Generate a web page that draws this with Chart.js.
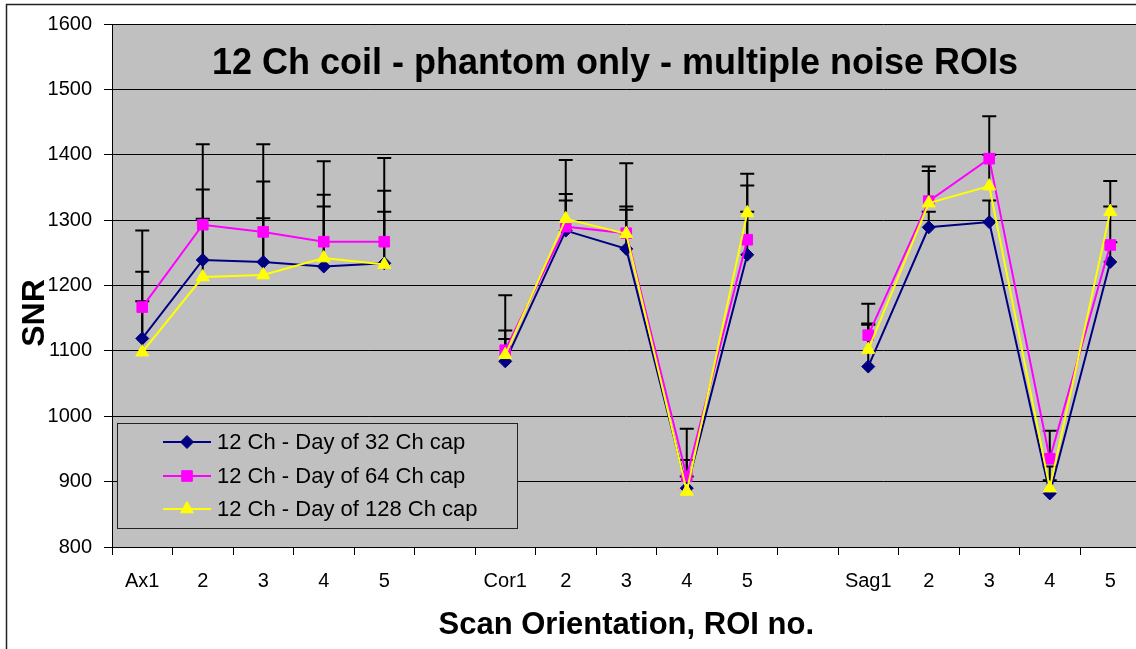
<!DOCTYPE html>
<html>
<head>
<meta charset="utf-8">
<script src="https://cdn.jsdelivr.net/npm/chart.js@4.4.1/dist/chart.umd.min.js"></script>
<style>
  html, body { margin: 0; padding: 0; background: #fff; overflow: hidden; }
  #wrap { width: 1149px; height: 649px; }
</style>
</head>
<body>
<div id="wrap"><canvas id="snrChart" width="1149" height="649"></canvas></div>
<script>
// SNR per scan orientation / ROI - 12 Ch coil, phantom only
const categories = ['Ax1', '2', '3', '4', '5', '', 'Cor1', '2', '3', '4', '5', '', 'Sag1', '2', '3', '4', '5'];
const yTicks = [800, 900, 1000, 1100, 1200, 1300, 1400, 1500, 1600];

const seriesNames = ['12 Ch - Day of 32 Ch cap', '12 Ch - Day of 64 Ch cap', '12 Ch - Day of 128 Ch cap'];

const snr32 = [1119, 1239, 1236, 1229, 1234, null, 1084, 1284, 1256, 890, 1247, null, 1076, 1289, 1297, 882, 1236];
const snr64 = [1167, 1293, 1282, 1267, 1267, null, 1101, 1290, 1280, 908, 1270, null, 1124, 1329, 1394, 935, 1262];
const snr128 = [1098, 1213, 1216, 1242, 1232, null, 1094, 1302, 1279, 885, 1311, null, 1102, 1326, 1352, 890, 1313];

// plus-only error bars
const err32 = [102, 108, 123, 92, 111, null, 34, 46, 60, 43, 66, null, 66, 24, 33, 20, 30];
const err64 = [117, 123, 134, 123, 128, null, 84, 50, 107, 73, 83, null, 48, 53, 65, 43, 59];
const err128 = [78, 89, 87, 97, 81, null, 37, 90, 42, 23, 60, null, 38, 49, 48, 33, 47];

const FONT = "'Liberation Sans', Arial, sans-serif";
Chart.defaults.font.family = FONT;
Chart.defaults.color = '#000';

const seriesStyle = [
  { color: '#000080', point: 'rectRot', radius: 6.5 },
  { color: '#ff00ff', point: 'rect', radius: 7.5 },
  { color: '#ffff00', point: 'triangle', radius: 7.5 }
];
const seriesData = [snr32, snr64, snr128];
const seriesErr = [err32, err64, err128];

const plotBg = {
  id: 'plotBg',
  beforeDraw(chart) {
    const { ctx, chartArea: a } = chart;
    ctx.save();
    ctx.fillStyle = '#c0c0c0';
    ctx.fillRect(a.left, a.top, a.right - a.left, a.bottom - a.top);
    ctx.restore();
  }
};

const errorBars = {
  id: 'errorBars',
  beforeDatasetsDraw(chart) {
    const { ctx } = chart;
    const y = chart.scales.y;
    ctx.save();
    ctx.strokeStyle = '#000';
    ctx.lineWidth = 2;
    chart.data.datasets.forEach((ds, i) => {
      const meta = chart.getDatasetMeta(i);
      const errs = seriesErr[i];
      ds.data.forEach((v, j) => {
        if (v == null || !errs[j]) return;
        const x = meta.data[j].x;
        const y0 = y.getPixelForValue(v);
        const y1 = y.getPixelForValue(v + errs[j]);
        ctx.beginPath();
        ctx.moveTo(x, y0);
        ctx.lineTo(x, y1);
        ctx.moveTo(x - 7, y1);
        ctx.lineTo(x + 7, y1);
        ctx.stroke();
      });
    });
    ctx.restore();
  }
};

const decorations = {
  id: 'decorations',
  afterDraw(chart) {
    const { ctx } = chart;
    ctx.save();

    // chart title inside plot area
    ctx.fillStyle = '#000';
    ctx.font = `bold 36px ${FONT}`;
    ctx.textAlign = 'center';
    ctx.textBaseline = 'middle';
    ctx.fillText('12 Ch coil - phantom only - multiple noise ROIs', 615, 64);

    // y axis title
    ctx.save();
    ctx.translate(35, 313);
    ctx.rotate(-Math.PI / 2);
    ctx.font = `bold 32px ${FONT}`;
    ctx.fillText('SNR', 0, 0);
    ctx.restore();

    // legend box
    const lx = 117.5, ly = 423.5, lw = 400, lh = 105;
    ctx.fillStyle = '#c0c0c0';
    ctx.fillRect(lx, ly, lw, lh);
    ctx.strokeStyle = '#222';
    ctx.lineWidth = 1;
    ctx.strokeRect(lx, ly, lw, lh);
    const rows = [442, 476, 509];
    ctx.font = `22px ${FONT}`;
    ctx.textAlign = 'left';
    seriesNames.forEach((name, i) => {
      const s = seriesStyle[i];
      ctx.strokeStyle = s.color;
      ctx.lineWidth = 2;
      ctx.beginPath();
      ctx.moveTo(163, rows[i]);
      ctx.lineTo(211, rows[i]);
      ctx.stroke();
      ctx.fillStyle = s.color;
      ctx.strokeStyle = s.color;
      ctx.lineWidth = 1;
      Chart.helpers.drawPoint(ctx, { pointStyle: s.point, radius: s.radius, rotation: 0, borderWidth: 1 }, 187, rows[i]);
      ctx.fillStyle = '#000';
      ctx.fillText(name, 217, rows[i] + 1);
    });

    // outer frame (top and left edges visible)
    ctx.strokeStyle = '#222';
    ctx.lineWidth = 1.5;
    ctx.beginPath();
    ctx.moveTo(6.5, chart.height);
    ctx.lineTo(6.5, 4.5);
    ctx.lineTo(chart.width, 4.5);
    ctx.stroke();
    ctx.restore();
  }
};

new Chart(document.getElementById('snrChart'), {
  type: 'line',
  data: {
    labels: categories,
    datasets: seriesData.map((d, i) => ({
      label: seriesNames[i],
      data: d,
      borderColor: seriesStyle[i].color,
      backgroundColor: seriesStyle[i].color,
      borderWidth: 2,
      pointStyle: seriesStyle[i].point,
      pointRadius: seriesStyle[i].radius,
      pointBorderWidth: 1,
      tension: 0,
      spanGaps: false,
      order: 3 - i
    }))
  },
  options: {
    responsive: false,
    animation: false,
    layout: { padding: { top: 24, left: 0, right: 1, bottom: 0 } },
    plugins: { legend: { display: false }, tooltip: { enabled: false } },
    scales: {
      x: {
        offset: true,
        grid: { offset: true, drawOnChartArea: false, drawTicks: true, tickLength: 8, color: '#000' },
        border: { display: true, color: '#000', width: 1 },
        ticks: { font: { size: 20 }, color: '#000', padding: 14, maxRotation: 0, autoSkip: false },
        title: { display: true, text: 'Scan Orientation, ROI no.', font: { size: 31, weight: 'bold' }, color: '#000', padding: { top: 0, bottom: 5 } },
        afterFit(scale) { scale.height = 102; }
      },
      y: {
        min: 800,
        max: 1600,
        afterBuildTicks(scale) { scale.ticks = yTicks.map(v => ({ value: v })); },
        grid: { color: '#000', lineWidth: 1, tickLength: 8 },
        border: { display: true, color: '#000', width: 1 },
        ticks: { font: { size: 20 }, color: '#000', padding: 12, callback: v => String(v) },
        afterFit(scale) { scale.width = 112; }
      }
    }
  },
  plugins: [plotBg, errorBars, decorations]
});
</script>
</body>
</html>
